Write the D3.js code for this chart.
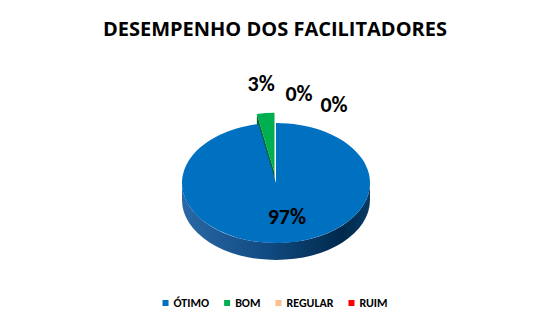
<!DOCTYPE html>
<html>
<head>
<meta charset="utf-8">
<script src="https://cdn.jsdelivr.net/npm/d3@7"></script>
<style>body{margin:0;background:#fff}</style>
</head>
<body>
<div id="chart"></div>
<script>
var width = 548, height = 323;
var categories = ["ÓTIMO", "BOM", "REGULAR", "RUIM"];
var values = [97, 3, 0, 0];
var labels = ["97%", "3%", "0%", "0%"];
var colors = ["#0070C0", "#00B050", "#FAC090", "#FF0000"];
var exploded = [0, 1, 0, 0];

var font = "Calibri, Carlito, Lato, sans-serif";
var cx = 276, cy = 183, rx = 94, ry = 60, depth = 17, explode = 16;
// label radius factor and nudges (Excel spreads zero labels to the right)
var labelK = [0.55, 1.5, 1.5, 1.5];
var labelNudge = [[6, 0], [0, 0], [23, 0], [58, 11]];

var svg = d3.select("#chart").append("svg")
    .attr("width", width)
    .attr("height", height);

svg.append("text")
    .attr("x", 275)
    .attr("y", 36)
    .attr("text-anchor", "middle")
    .style("font-family", "'Open Sans', sans-serif")
    .style("font-weight", "bold")
    .style("font-size", "20px")
    .text("DESEMPENHO DOS FACILITADORES");

var grad = svg.append("defs").append("linearGradient")
    .attr("id", "side")
    .attr("gradientUnits", "userSpaceOnUse")
    .attr("x1", cx - rx).attr("x2", cx + rx)
    .attr("y1", 0).attr("y2", 0);
grad.append("stop").attr("offset", "0%").attr("stop-color", "#2a68a6");
grad.append("stop").attr("offset", "45%").attr("stop-color", "#114b82");
grad.append("stop").attr("offset", "85%").attr("stop-color", "#00294b");
grad.append("stop").attr("offset", "100%").attr("stop-color", "#0a3a66");

var pie = d3.pie().sort(null).startAngle(0).endAngle(2 * Math.PI);
var arcs = pie(values);

function offset(d, i) {
    var m = (d.startAngle + d.endAngle) / 2;
    var e = exploded[i] ? explode : 0;
    return [e * Math.sin(m), -e * Math.cos(m) * ry / rx];
}

function pt(a, k, o, dy) {
    return [cx + o[0] + rx * k * Math.sin(a), cy + o[1] + (dy || 0) - ry * k * Math.cos(a)];
}

function topPath(d, i) {
    var o = offset(d, i);
    var p0 = pt(d.startAngle, 1, o), p1 = pt(d.endAngle, 1, o);
    var large = d.endAngle - d.startAngle > Math.PI ? 1 : 0;
    return "M" + (cx + o[0]) + "," + (cy + o[1]) + "L" + p0 + "A" + rx + "," + ry + " 0 " + large + " 1 " + p1 + "Z";
}

function sidePath(d, i) {
    var a = Math.max(d.startAngle, Math.PI / 2), b = Math.min(d.endAngle, 3 * Math.PI / 2);
    if (b <= a) return null;
    var o = offset(d, i);
    return "M" + pt(a, 1, o) + "A" + rx + "," + ry + " 0 0 1 " + pt(b, 1, o) +
        "L" + pt(b, 1, o, depth) + "A" + rx + "," + ry + " 0 0 0 " + pt(a, 1, o, depth) + "Z";
}

function facePath(d, i) {
    var o = offset(d, i);
    var c = [cx + o[0], cy + o[1]];
    var p = pt(d.startAngle, 1, o);
    return "M" + c + "L" + p + "L" + [p[0], p[1] + depth] + "L" + [c[0], c[1] + depth] + "Z";
}

var pieG = svg.append("g");
var back = arcs.filter(function (d, i) { return exploded[i] && d.value > 0; });
back.forEach(function (d) {
    var i = d.index;
    pieG.append("path").attr("d", facePath(d, i)).attr("fill", d3.color(colors[i]).darker(1.6));
    pieG.append("path").attr("d", topPath(d, i)).attr("fill", colors[i]);
});
arcs.forEach(function (d) {
    var i = d.index;
    if (exploded[i] || d.value <= 0) return;
    var s = sidePath(d, i);
    if (s) pieG.append("path").attr("d", s).attr("fill", "url(#side)");
    pieG.append("path").attr("d", topPath(d, i)).attr("fill", colors[i]);
});

svg.append("g").selectAll("text")
    .data(arcs)
    .enter()
    .append("text")
    .attr("x", function (d, i) {
        var m = (d.startAngle + d.endAngle) / 2;
        return pt(m, labelK[i], offset(d, i))[0] + labelNudge[i][0];
    })
    .attr("y", function (d, i) {
        var m = (d.startAngle + d.endAngle) / 2;
        return pt(m, labelK[i], offset(d, i))[1] + labelNudge[i][1];
    })
    .attr("dy", "0.35em")
    .attr("text-anchor", "middle")
    .style("font-family", font)
    .style("font-weight", "bold")
    .style("font-size", "22px")
    .attr("fill", "#000")
    .text(function (d, i) { return labels[i]; });

// legend
var legend = svg.append("g");
var x = 0;
categories.forEach(function (c, i) {
    var item = legend.append("g").attr("transform", "translate(" + x + ",0)");
    item.append("rect").attr("x", 0).attr("y", -3).attr("width", 6).attr("height", 6).attr("fill", colors[i]);
    var t = item.append("text").attr("x", 11).attr("y", 0).attr("dy", "0.35em")
        .style("font-family", font).style("font-weight", "bold").style("font-size", "12px")
        .text(c);
    x += 11 + t.node().getComputedTextLength() + 15;
});
x -= 15;
legend.attr("transform", "translate(" + (275 - x / 2) + ",303)");
</script>
</body>
</html>
